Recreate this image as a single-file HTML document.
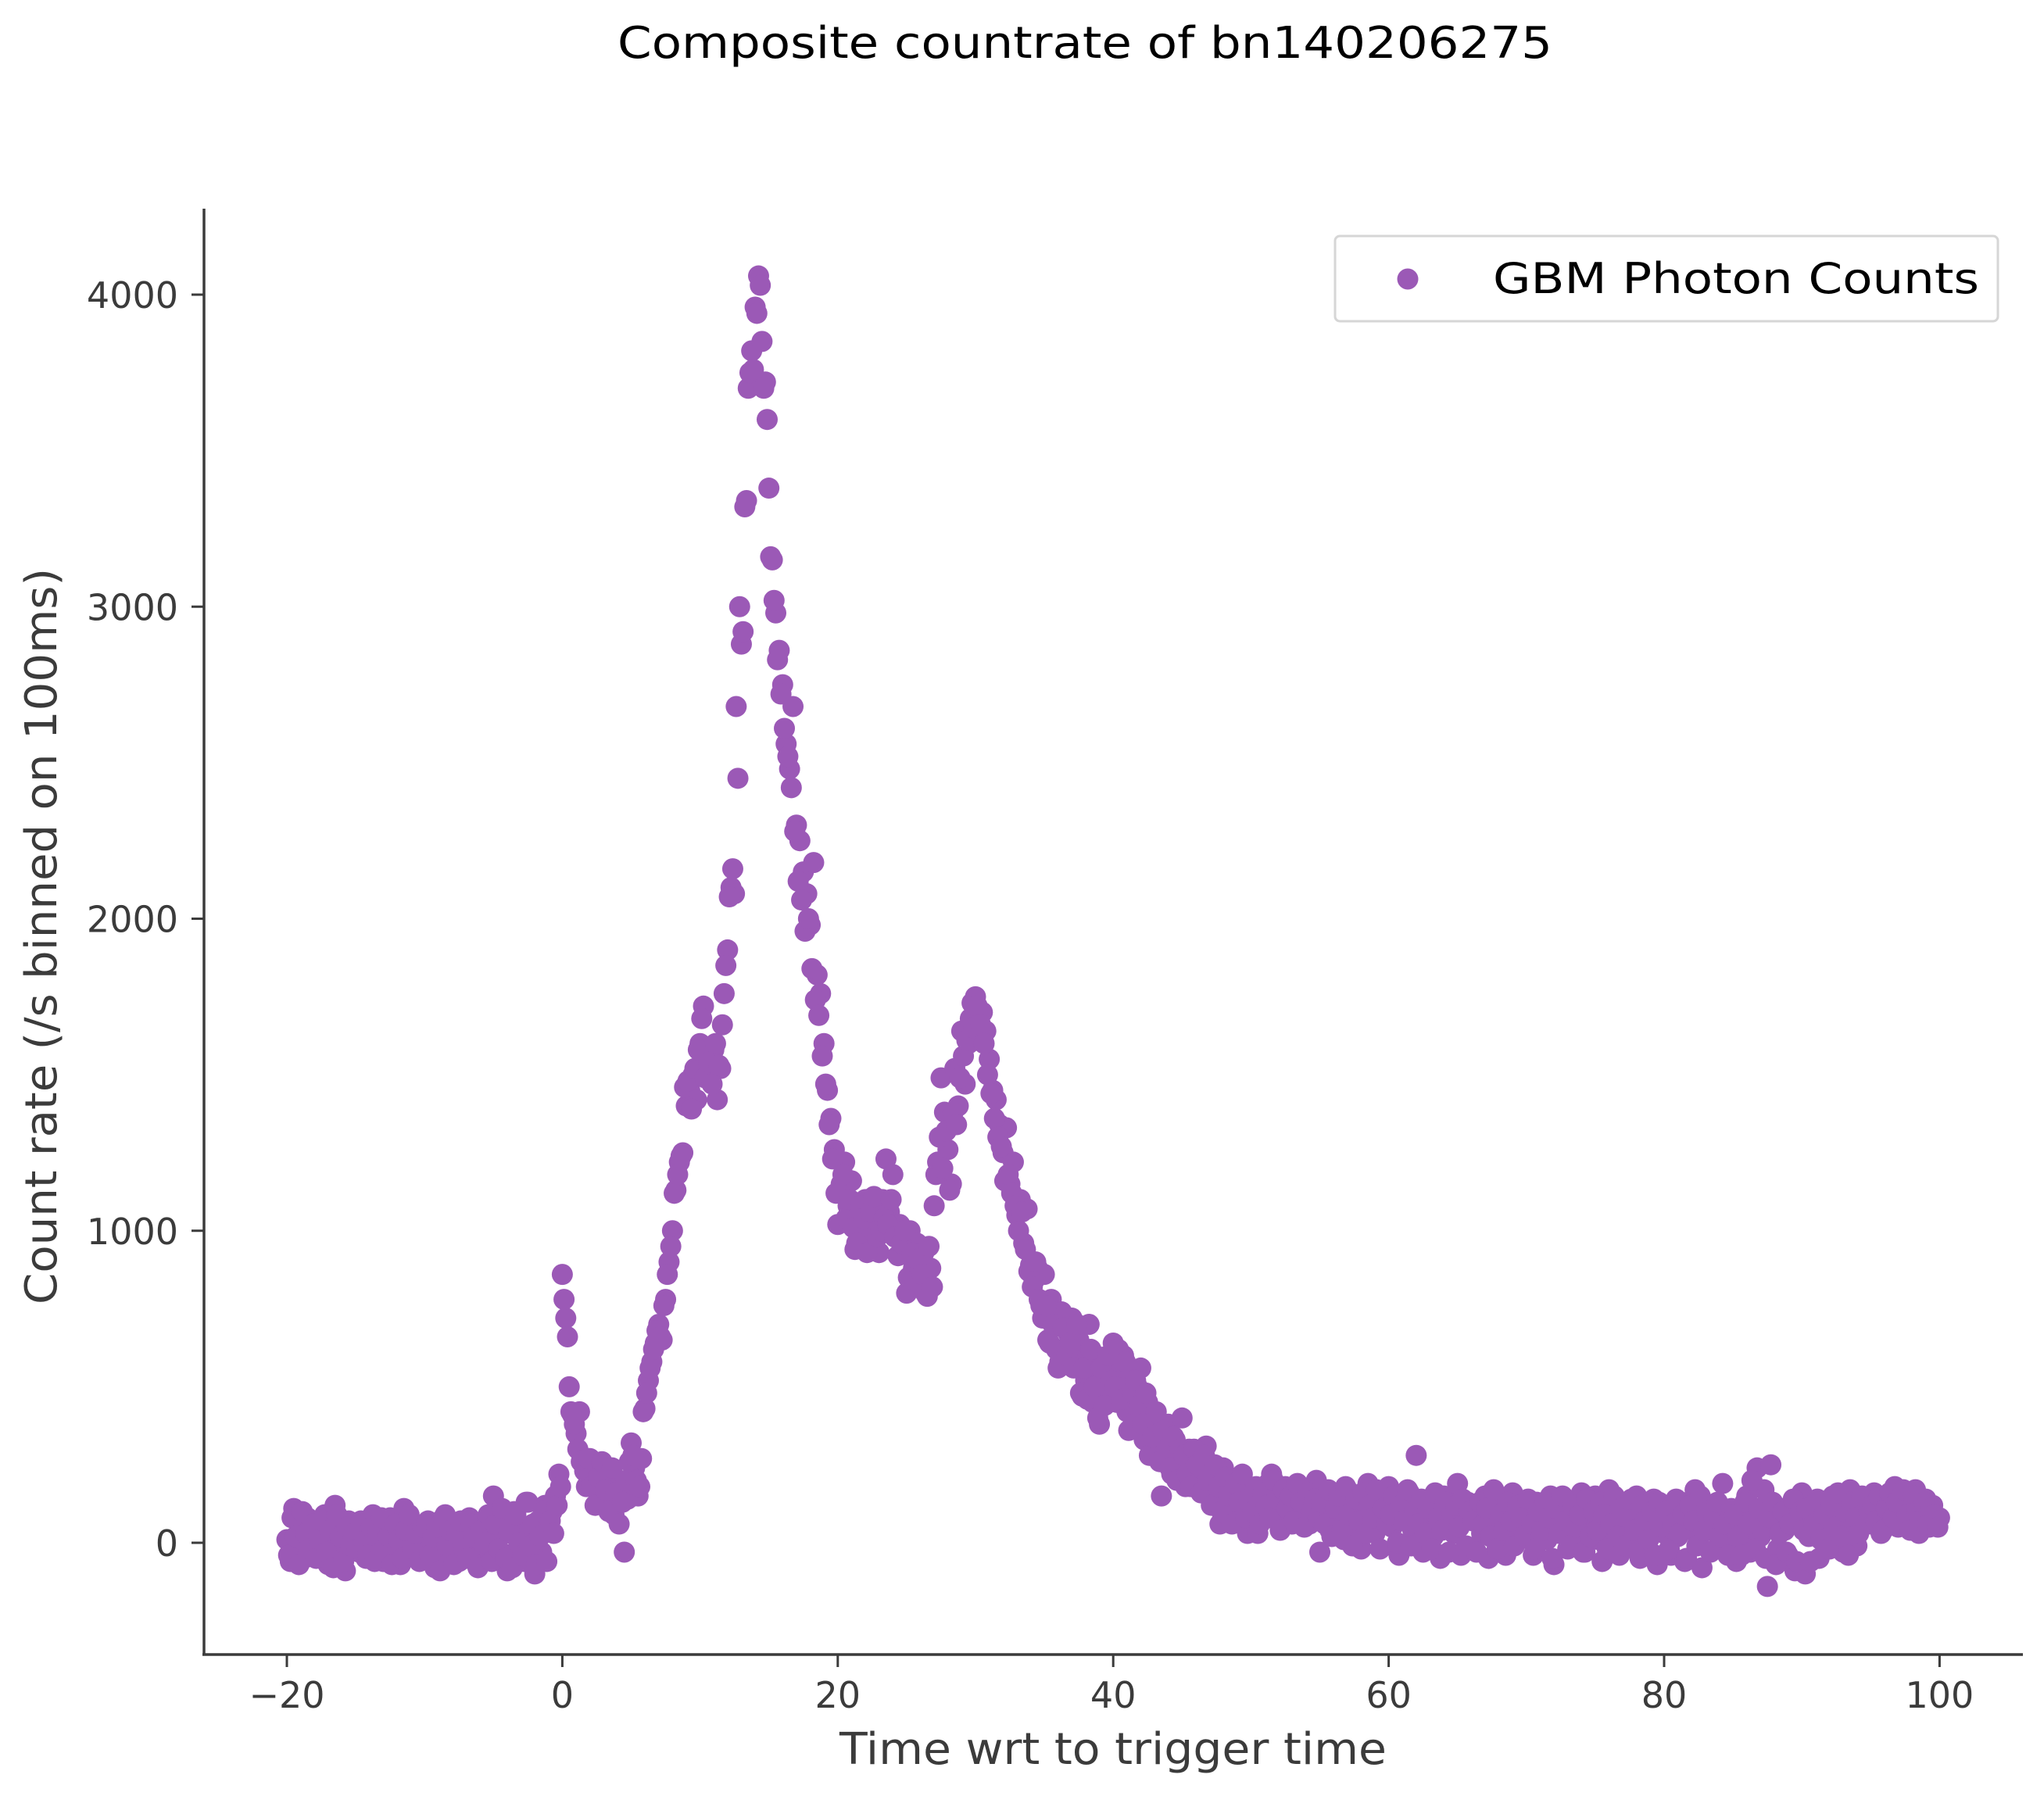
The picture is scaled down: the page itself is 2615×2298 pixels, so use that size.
<!DOCTYPE html>
<html><head><meta charset="utf-8"><style>
html,body{margin:0;padding:0;background:#fff;}
svg{display:block;font-family:"DejaVu Sans","Liberation Sans",sans-serif;}
</style></head><body>
<svg id="chart" width="2615" height="2298" viewBox="0 0 2615 2298" xmlns="http://www.w3.org/2000/svg">
<rect width="2615" height="2298" fill="#fff"/>
<text x="1388" y="74" font-size="56" text-anchor="middle" fill="#000" textLength="1196" lengthAdjust="spacingAndGlyphs">Composite countrate of bn140206275</text>
<g id="marks"></g>
<g id="axes"></g>
<text x="1424" y="2257" font-size="56" text-anchor="middle" fill="#3b3b3b" textLength="700" lengthAdjust="spacingAndGlyphs">Time wrt to trigger time</text>
<text transform="translate(72,1198) rotate(-90)" font-size="56" text-anchor="middle" fill="#3b3b3b" textLength="942" lengthAdjust="spacingAndGlyphs">Count rate (/s binned on 100ms)</text>
<g>
<rect x="1708" y="302" width="848" height="109" rx="6" fill="#fff" stroke="#d6d6d6" stroke-width="3"/>
<circle cx="1801" cy="357" r="13.5" fill="#9b59b6"/>
<text x="1910" y="375" font-size="54" fill="#000" textLength="622" lengthAdjust="spacingAndGlyphs">GBM Photon Counts</text>
</g>
</svg>
<script>
const tStart = -20;
const tStart2 = -19.875;
const tStep = 0.25;
const counts = [
10,-60,110,-20,40,-50,80,5,-30,60,-10,90,-70,20,120,-40,30,-90,70,0,
40,-30,60,-50,20,90,-10,50,-60,10,80,-20,30,-70,110,0,-40,60,-20,20,
-30,70,10,-80,40,-20,90,-50,0,60,-60,30,-10,80,-40,20,-70,50,10,-30,
150,20,-40,60,-90,30,100,-20,50,-60,130,10,-100,70,-30,120,40,100,150,220,
860,720,500,410,350,420,260,180,270,200,240,150,250,120,220,90,160,180,-30,140,
320,240,150,270,430,520,580,640,700,650,780,900,1000,1130,1220,1250,1400,1450,1500,1420,
1600,1720,1500,1560,1580,1420,1520,1760,1900,2100,2080,2450,2880,3320,3700,3820,3960,4060,3850,3720,
3380,3150,2980,2860,2750,2560,2480,2680,2300,2250,2150,2080,1980,2180,1820,1760,1600,1450,1360,1260,
1020,1150,1220,1080,1160,940,1050,980,1100,970,1000,1050,930,1100,1230,1060,1180,990,1020,950,
800,1000,880,960,820,930,790,880,1080,1220,1490,1380,1260,1150,1520,1400,1640,1470,1600,1730,
1750,1680,1700,1640,1550,1450,1420,1340,1250,1330,1150,1220,1050,1100,960,1070,890,840,880,760,
860,650,780,700,560,740,620,670,720,590,650,470,520,700,450,600,380,520,480,560,
640,450,530,600,420,560,380,500,560,330,450,300,400,350,150,290,380,220,330,260,
400,180,300,250,220,190,260,310,170,220,140,60,240,180,130,200,80,160,110,30,
170,120,30,140,90,190,220,110,150,70,180,120,60,150,100,170,90,60,130,200,
-30,120,80,40,160,90,130,10,170,50,100,140,-20,120,190,60,30,150,90,100,
180,50,130,-40,110,80,160,40,280,120,-30,90,140,20,70,-50,150,60,100,30,
190,-40,80,130,-20,70,110,30,150,-50,60,90,20,140,-40,80,160,30,50,110,
90,20,-40,130,60,100,10,150,-70,80,120,40,-20,110,60,30,160,-30,90,70,
150,10,-60,110,170,40,80,-40,130,60,20,90,150,-50,100,30,70,140,-70,60,
30,110,-40,80,20,130,-60,100,50,170,10,-80,90,40,120,-20,60,190,0,80,
40,-60,100,20,150,-30,80,240,20,170,-140,250,60,-20,110,40,-40,90,-90,60,
160,-100,20,80,130,-50,100,40,-20,150,60,120,-30,90,170,50,-10,130,70,110,
60,160,90,30,140,70,120,180,50,100,140,60,110,170,30,90,140,50,120,80,
80];
const counts2 = [
-40,80,20,-70,100,30,-20,60,-50,10,70,-30,40,-80,90,20,-60,50,-10,30,
-20,70,0,-40,50,-60,30,80,-30,20,-70,60,10,-50,40,90,-20,30,-60,50,
60,-40,20,50,-90,80,-10,40,-70,30,70,-20,-50,60,20,-80,40,0,90,-60,
60,-20,110,-50,40,-80,90,0,-40,130,-10,60,-70,20,100,-60,70,30,120,180,
780,660,420,380,300,260,230,270,180,120,210,260,170,100,240,160,60,130,200,260,
280,200,180,420,480,560,620,680,660,760,860,950,1120,1180,1240,1460,1480,1390,1520,1580,
1680,1490,1540,1470,1600,1530,1660,1850,2070,2160,2680,3000,2920,3340,3750,3760,3940,4030,3700,3600,
3160,3020,2830,2720,2610,2520,2420,2280,2120,2060,1960,2000,1840,1740,1690,1560,1470,1340,1230,1120,
1120,1180,1040,1100,1010,960,1080,1040,930,1060,1110,980,1000,1040,1020,1100,980,920,960,1000,
850,930,840,910,860,800,950,820,1180,1300,1200,1320,1130,1380,1340,1490,1560,1610,1680,1650,
1720,1660,1600,1500,1440,1360,1300,1270,1160,1180,1120,1080,1000,1060,940,870,820,900,780,720,
760,640,700,620,580,690,600,640,560,700,480,560,460,620,500,400,560,440,600,520,
500,620,460,580,360,480,520,440,380,480,280,340,420,260,360,300,240,340,200,300,
280,220,180,300,250,160,280,200,120,250,180,100,210,150,60,190,130,220,80,140,
100,180,60,160,120,80,200,140,40,170,110,150,70,190,130,50,160,100,140,80,
130,60,170,20,110,150,40,180,90,-10,140,70,160,30,120,80,170,-20,110,60,
90,150,0,120,70,170,-10,100,60,140,30,110,-20,160,80,40,130,-30,90,120,
50,140,-10,100,70,-30,130,60,110,20,170,-20,90,40,130,70,-10,120,80,20,
140,60,-20,100,40,130,80,-50,110,30,150,70,-10,120,50,90,-30,140,20,100,
40,130,90,-20,60,150,20,110,-10,80,140,40,-30,120,70,10,100,-40,130,50,
100,-20,60,140,30,90,-50,120,70,-10,150,40,100,-30,80,130,20,60,-40,110,
90,20,-40,130,60,200,-20,110,40,-50,80,130,-70,30,100,-30,60,140,-60,100,
40,110,-60,60,140,10,90,-20,120,50,160,20,100,-40,130,80,30,150,60,100,
120,70,150,40,110,160,80,130,60,170,90,40,150,100,70,130,60,110,90,50];
const xTicks = [-20,0,20,40,60,80,100];
const yTicks = [0,1000,2000,3000,4000];

const NS = "http://www.w3.org/2000/svg";
const XS = 17.62, X0 = 367 + 20*17.62;
const Y0 = 1974, YS = 0.39925;
function xScale(v){ return X0 + v*XS; }
function yScale(v){ return Y0 - v*YS; }
function mk(tag, attrs, parent){
  const e = document.createElementNS(NS, tag);
  for (const k in attrs) e.setAttribute(k, attrs[k]);
  parent.appendChild(e); return e;
}
const marks = document.getElementById('marks');
counts.forEach((v,i)=>{
  const c = mk('circle', {cx: xScale(tStart + i*tStep), cy: yScale(v), r: 13.5, fill: '#9b59b6'}, marks);
  
  
});
counts2.forEach((v,i)=>{
  const c = mk('circle', {cx: xScale(tStart2 + i*tStep), cy: yScale(v), r: 13.5, fill: '#9b59b6'}, marks);
  
  
});
const axes = document.getElementById('axes');
const ya = mk('line', {x1:261,y1:267,x2:261,y2:2117,stroke:'#3b3b3b','stroke-width':3.5}, axes);


const xa = mk('line', {x1:259,y1:2117,x2:2588,y2:2117,stroke:'#3b3b3b','stroke-width':3.5}, axes);


xTicks.forEach(t=>{
  const x = xScale(t);
  const tk = mk('line', {x1:x,y1:2117,x2:x,y2:2133,stroke:'#3b3b3b','stroke-width':3}, axes);
  
  
  const tx = mk('text', {x:x,y:2185,'font-size':46,'text-anchor':'middle',fill:'#3b3b3b'}, axes);
  tx.textContent = t < 0 ? '\u2212' + Math.abs(t) : String(t);
  
  
});
yTicks.forEach(t=>{
  const y = yScale(t);
  const tk = mk('line', {x1:245,y1:y,x2:261,y2:y,stroke:'#3b3b3b','stroke-width':3}, axes);
  
  
  const tx = mk('text', {x:228,y:y+17,'font-size':46,'text-anchor':'end',fill:'#3b3b3b'}, axes);
  tx.textContent = String(t);
  
  
});
</script>
</body></html>
